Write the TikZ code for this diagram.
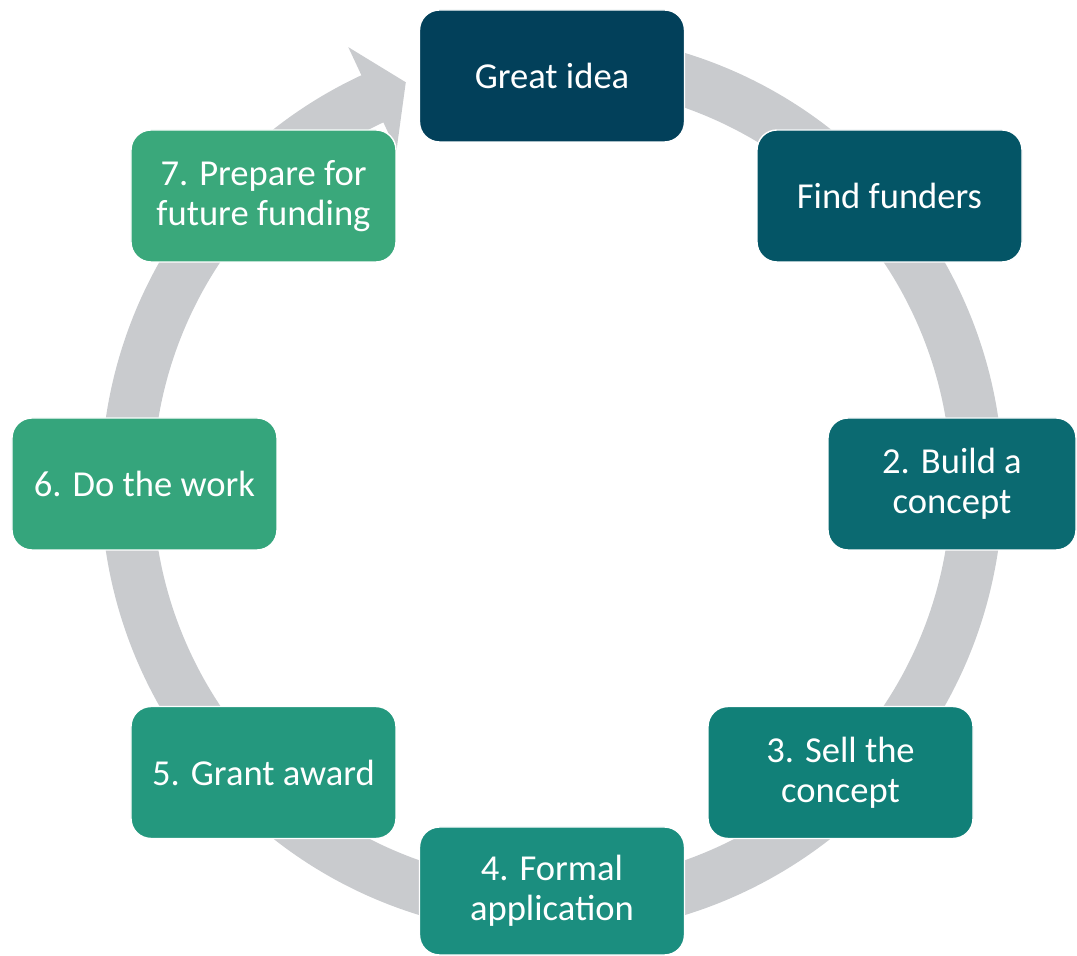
\documentclass[tikz,border=0pt]{standalone}
\usepackage{fontspec}
\setmainfont{Carlito}
\usepackage{xcolor}
\usepackage{tikz}

\definecolor{ringgray}{HTML}{C9CBCE}
\definecolor{stepA}{HTML}{02405A}
\definecolor{stepB}{HTML}{045566}
\definecolor{stepC}{HTML}{0B6A71}
\definecolor{stepD}{HTML}{118078}
\definecolor{stepE}{HTML}{1B8E7F}
\definecolor{stepF}{HTML}{24987E}
\definecolor{stepG}{HTML}{35A57C}
\definecolor{stepH}{HTML}{3AA87B}

\tikzset{
    stagebox/.style={draw=white, line width=0.8pt, rounded corners=0.4cm,
        minimum width=5.3cm, minimum height=2.64cm, align=center,
        text=white, font=\fontsize{20.8}{22.8}\selectfont},
}

\begin{document}
\begin{tikzpicture}
    \useasboundingbox (-11.04,-9.44) rectangle (10.5,9.68);

    % the ring with its head
    \fill[ringgray] (80:9.02) arc[start angle=80, end angle=-245, radius=9.02]
        -- (115:9.64) -- (110:8.55) -- (115:7.36) -- (115:7.98)
        arc[start angle=-245, end angle=80, radius=7.98] -- cycle;

    \node[stagebox, fill=stepA] (idea) at (0,8.16) {Great idea};
    \node[stagebox, fill=stepB] (funders) at (6.75,5.76) {Find funders};
    \node[stagebox, fill=stepC, minimum width=4.96cm] (build) at (8.0,0) {2. Build a\\concept};
    \node[stagebox, fill=stepD] (sell) at (5.77,-5.77) {3. Sell the\\concept};
    \node[stagebox, fill=stepE, minimum height=2.56cm] (formal) at (0,-8.14) {4. Formal\\application};
    \node[stagebox, fill=stepF] (award) at (-5.77,-5.77) {5. Grant award};
    \node[stagebox, fill=stepG] (work) at (-8.15,0) {6. Do the work};
    \node[stagebox, fill=stepH] (prepare) at (-5.77,5.76) {7. Prepare for\\future funding};

\end{tikzpicture}
\end{document}
